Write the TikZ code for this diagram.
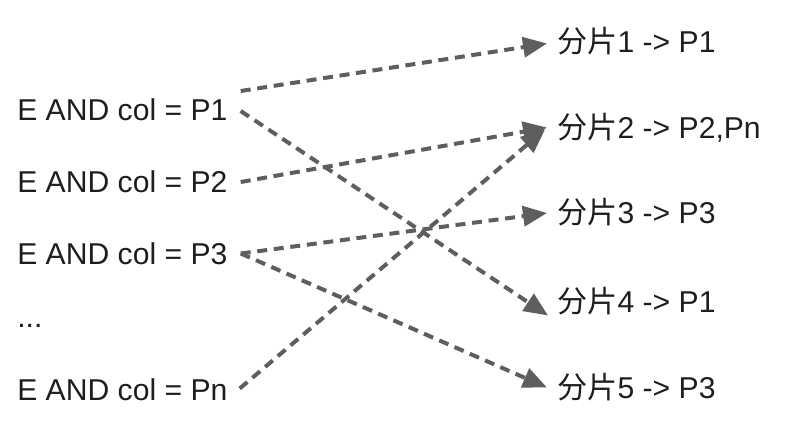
\documentclass[tikz,border=0pt]{standalone}
\usepackage{fontspec}
\setmainfont{Liberation Sans}
\newfontfamily\cjk{Noto Sans CJK SC}
\usetikzlibrary{arrows.meta}
\definecolor{lnGray}{HTML}{5E5E5E}
\definecolor{txtDark}{HTML}{1E1E1E}

\begin{document}
\begin{tikzpicture}[
    x=0.75pt, y=-0.75pt,
    lbl/.style={font=\fontsize{22.6}{26}\selectfont, text=txtDark, inner sep=0pt,
        anchor=west, text height=16pt, text depth=0pt},
    link/.style={lnGray, line width=3pt, dash pattern=on 7.5pt off 5pt,
        -{Triangle[length=18pt,width=15pt]}},
]
\useasboundingbox (0,0) rectangle (787,429);

% conditions (left column)
\foreach \i/\y in {1/110, 2/182, 3/253.5, n/389.5} {
    \node[lbl] (l\i) at (17,\y) {E AND col = P\i};
}
\node[lbl, anchor=base west] (ld) at (17,327) {...};

% shards (right column)
\foreach \i/\t/\y in {1/P1/41.5, 2/{P2,Pn}/127.5, 3/P3/213, 4/P1/301.5, 5/P3/387.5} {
    \node[lbl] (r\i) at (557,\y) {{\cjk 分片}\i\ -> \t};
}

% routing arrows
\draw[link] ([shift={(13,-19)}]l1.east) -- ([shift={(-10,2)}]r1.west);
\draw[link] ([shift={(13,1)}]l1.east) -- ([shift={(-9,14)}]r4.west);
\draw[link] ([shift={(13,0)}]l2.east) -- ([shift={(-10,0)}]r2.west);
\draw[link] ([shift={(13,0)}]l3.east) -- ([shift={(-10,0)}]r3.west);
\draw[link] ([shift={(13,0)}]l3.east) -- ([shift={(-10,0)}]r5.west);
\draw[link] ([shift={(12,-1)}]ln.east) -- ([shift={(-12,2)}]r2.west);

\end{tikzpicture}
\end{document}
